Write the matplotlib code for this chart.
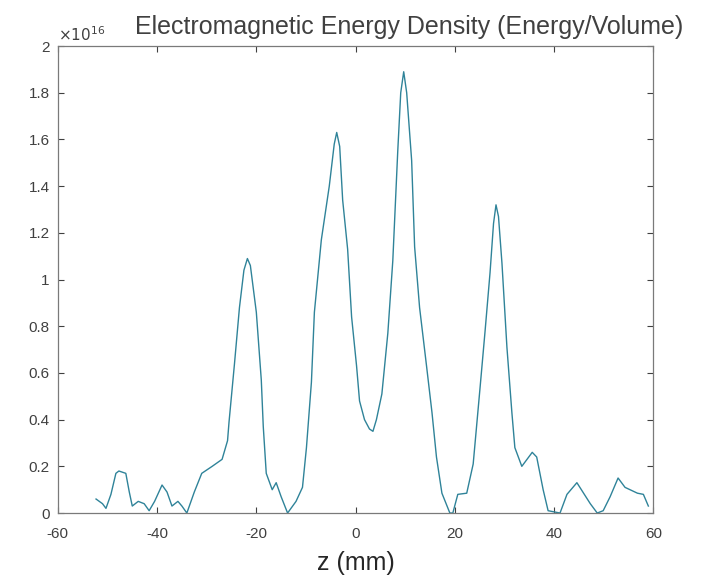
import matplotlib.pyplot as plt
import numpy as np

plt.rcParams['font.family'] = ['Liberation Sans', 'DejaVu Sans']
plt.rcParams['axes.unicode_minus'] = False

# z position (mm) and energy density (units of 1e16)
z_mm = [-52.3, -51.0, -50.3, -49.3, -48.3, -47.7, -46.3, -45.6, -45.0, -43.8, -42.6,
        -41.6, -40.5, -39.0, -38.0, -37.0, -35.8, -35.0, -34.0, -32.5, -31.0, -28.9,
        -26.9, -25.8, -25.5, -24.4, -23.4, -22.5, -21.8, -21.2, -20.0, -19.0, -18.6,
        -18.0, -16.8, -16.0, -15.0, -13.7, -12.0, -10.7, -9.9, -8.9, -8.3, -6.9,
        -5.3, -4.3, -3.8, -3.2, -2.6, -1.6, -0.8, 0.2, 0.8, 1.8, 2.8, 3.5, 4.2,
        5.3, 6.5, 7.5, 8.5, 9.1, 9.7, 10.3, 11.3, 11.9, 12.9, 14.3, 15.4,
        16.3, 17.4, 19.0, 19.6, 20.6, 22.4, 23.7, 25.1, 26.1, 27.1, 27.8, 28.3,
        28.8, 29.5, 30.5, 31.5, 32.1, 33.5, 35.6, 36.5, 37.8, 38.8, 41.2, 42.6, 44.6,
        47.3, 48.7, 49.9, 51.3, 52.9, 54.3, 56.8, 58.0, 59.0]
energy = [0.06, 0.04, 0.02, 0.08, 0.17, 0.18, 0.17, 0.09, 0.03, 0.05, 0.04,
          0.01, 0.05, 0.12, 0.09, 0.03, 0.05, 0.03, 0.0, 0.09, 0.17, 0.20,
          0.23, 0.31, 0.39, 0.64, 0.88, 1.04, 1.09, 1.06, 0.86, 0.57, 0.37,
          0.17, 0.10, 0.13, 0.07, 0.0, 0.05, 0.11, 0.28, 0.56, 0.86, 1.17,
          1.40, 1.58, 1.63, 1.57, 1.34, 1.13, 0.84, 0.63, 0.48, 0.40, 0.36, 0.35, 0.40,
          0.51, 0.77, 1.08, 1.55, 1.80, 1.89, 1.80, 1.51, 1.14, 0.88, 0.63, 0.43,
          0.24, 0.085, 0.0, 0.0, 0.08, 0.085, 0.21, 0.54, 0.78, 1.03, 1.24, 1.32,
          1.27, 1.07, 0.71, 0.43, 0.28, 0.20, 0.26, 0.24, 0.10, 0.01, 0.0, 0.08, 0.13,
          0.04, 0.0, 0.01, 0.07, 0.15, 0.11, 0.085, 0.08, 0.03]

xticks = [-60, -40, -20, 0, 20, 40, 60]
yticks = [0, 0.2, 0.4, 0.6, 0.8, 1, 1.2, 1.4, 1.6, 1.8, 2]

grey = "#404040"
fig = plt.figure(figsize=(7.14, 5.83), dpi=100)
ax = fig.add_axes([0.081, 0.120, 0.834, 0.801])
ax.plot(z_mm, energy, color="#2f8399", lw=1.0)

ax.set_xlim(-60, 60)
ax.set_ylim(0, 2)
ax.set_xticks(xticks)
ax.set_yticks(yticks)
ax.set_yticklabels(["%g" % t for t in yticks])
ax.tick_params(direction="in", top=True, right=True, length=4, labelsize=11,
               colors=grey, pad=6)
ax.tick_params(axis="x", pad=10)
for s in ax.spines.values():
    s.set_color("#7a7a7a")
    s.set_linewidth(0.9)

ax.set_xlabel("z (mm)", fontsize=18, color="#262626", labelpad=7)
ax.set_title("Electromagnetic Energy Density (Energy/Volume)", fontsize=18,
             color=grey, pad=9, x=0.59)
ax.text(0.0, 1.005, r"$\times10^{16}$", transform=ax.transAxes, fontsize=11,
        color=grey, ha="left", va="bottom")

fig.savefig("out.png", dpi=100)
